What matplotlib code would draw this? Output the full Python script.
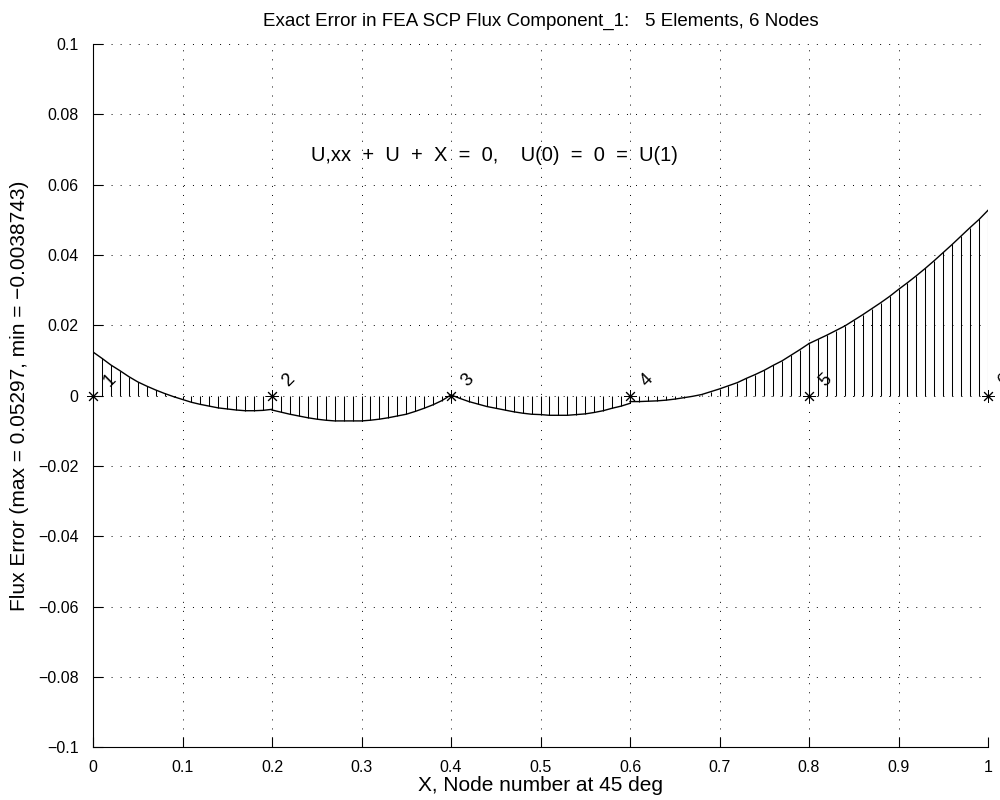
import numpy as np
import matplotlib
matplotlib.use("Agg")
import matplotlib.pyplot as plt
from matplotlib.ticker import FuncFormatter

plt.rcParams["font.family"] = ["Liberation Sans", "DejaVu Sans"]
plt.rcParams["font.size"] = 11

# node positions and labels
nodes = [0.0, 0.2, 0.4, 0.6, 0.8, 1.0]
node_labels = ["1", "2", "3", "4", "5", "6"]
step = 0.01  # sampling of the error inside each element

# flux error read off at every 0.01 along each element
err_e1 = [0.0124, 0.0106, 0.0087, 0.0071, 0.0054, 0.0039, 0.0027, 0.0016, 0.0006, -0.0003,
          -0.0011, -0.0019, -0.0025, -0.0030, -0.0035, -0.0038, -0.0041, -0.0043, -0.0043,
          -0.0042, -0.0039]
err_e2 = [-0.0041, -0.0047, -0.0053, -0.0058, -0.0063, -0.0067, -0.0070, -0.0072, -0.0072,
          -0.0072, -0.0072, -0.0070, -0.0067, -0.0063, -0.0058, -0.0053, -0.0045, -0.0036,
          -0.0026, -0.0014, 0.0002]
err_e3 = [0.0002, -0.0008, -0.0017, -0.0024, -0.0031, -0.0036, -0.0041, -0.0046, -0.0050,
          -0.0053, -0.0054, -0.0056, -0.0056, -0.0056, -0.0054, -0.0052, -0.0048, -0.0043,
          -0.0036, -0.0030, -0.0022]
err_e4 = [-0.0017, -0.0017, -0.0016, -0.0015, -0.0013, -0.0010, -0.0006, -0.0002, 0.0003,
          0.0011, 0.0019, 0.0028, 0.0037, 0.0049, 0.0060, 0.0072, 0.0086, 0.0099, 0.0115,
          0.0131, 0.0148]
err_e5 = [0.0148, 0.0160, 0.0172, 0.0185, 0.0198, 0.0214, 0.0230, 0.0247, 0.0264, 0.0282,
          0.0302, 0.0321, 0.0341, 0.0362, 0.0384, 0.0407, 0.0430, 0.0454, 0.0478, 0.0501,
          0.0527]
elements = [err_e1, err_e2, err_e3, err_e4, err_e5]

fig = plt.figure(figsize=(10, 8), dpi=100)
ax = fig.add_axes([0.093, 0.066, 0.895, 0.879])

for i, err in enumerate(elements):
    x = nodes[i] + step * np.arange(len(err))
    ax.vlines(x, 0, err, colors="k", lw=0.75)
    ax.plot(x, err, color="k", lw=1.0)

ax.plot(nodes, np.zeros(len(nodes)), ls="none", marker=(8, 2, 0), ms=9,
        mec="k", mew=0.7, clip_on=False)
for xn, lab in zip(nodes, node_labels):
    ax.text(xn + 0.0187, 0.0044, lab, rotation=45, ha="center", va="center",
            fontsize=13, clip_on=False)

ax.text(0.244, 0.0683, "U,xx  +  U  +  X  =  0,    U(0)  =  0  =  U(1)",
        ha="left", va="center", fontsize=14.5)

ax.set_xlim(0, 1)
ax.set_ylim(-0.1, 0.1)
ax.set_xticks(np.arange(0, 1.01, 0.1))
ax.set_yticks(np.arange(-0.1, 0.101, 0.02))
fmt = FuncFormatter(lambda v, _: ("%g" % round(v, 4)).replace("-", "\u2212"))
ax.xaxis.set_major_formatter(fmt)
ax.yaxis.set_major_formatter(fmt)
ax.tick_params(direction="in", length=7, width=0.8, labelsize=11.5)
ax.tick_params(axis="y", pad=10.5)
ax.tick_params(axis="x", pad=9)
ax.spines["top"].set_visible(False)
ax.spines["right"].set_visible(False)
ax.grid(True, color="k", lw=0.7, ls=(0, (1, 8.3)))

ax.set_title("Exact Error in FEA SCP Flux Component_1:   5 Elements, 6 Nodes", fontsize=13.5, pad=13)
ax.set_xlabel("X, Node number at 45 deg", fontsize=15, labelpad=1)
ax.set_ylabel("Flux Error (max = 0.05297, min = \u22120.0038743)", fontsize=15, labelpad=6)

fig.savefig("out.png", dpi=100)
